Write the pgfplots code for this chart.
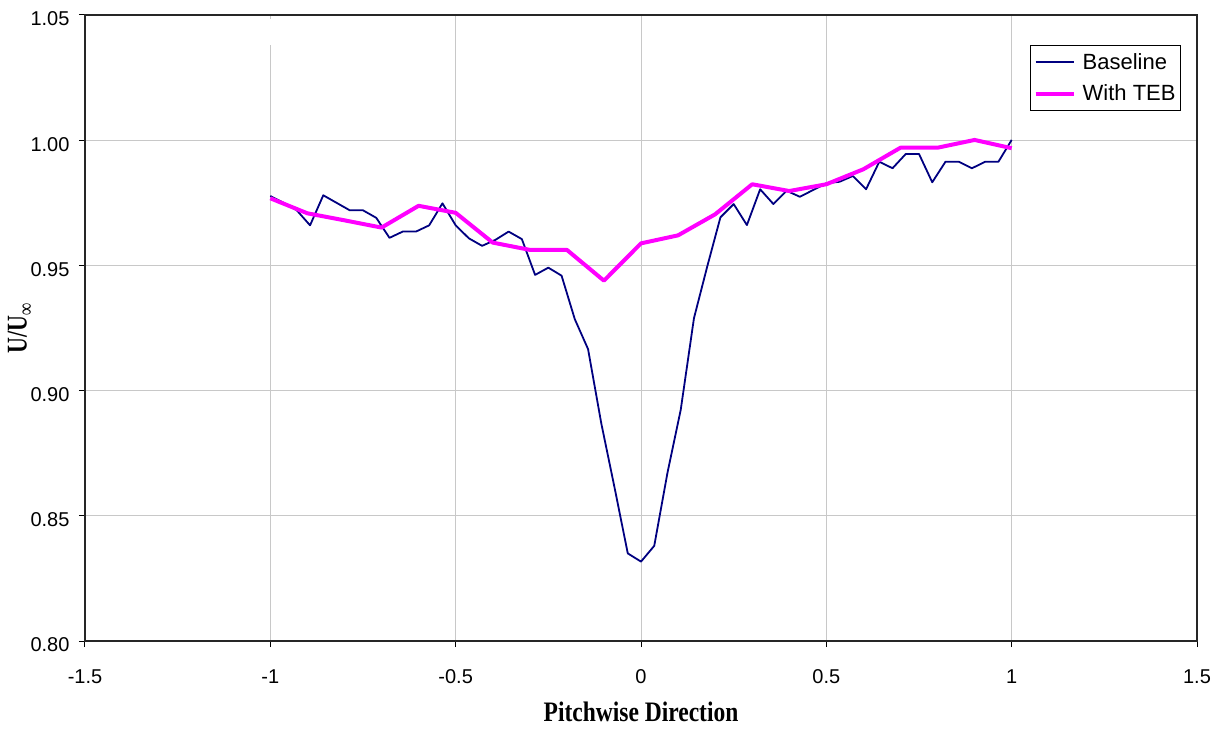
\documentclass[border=0pt]{standalone}
\usepackage{pgfplots}
\pgfplotsset{compat=1.18}
\usepackage{fontspec}
\setmainfont{Liberation Sans}
\newfontfamily\timesfont{Liberation Serif}

\definecolor{navyline}{HTML}{000080}
\definecolor{tebline}{HTML}{FF00FF}
\definecolor{gridgray}{HTML}{C8C8C8}

% Baseline velocity deficit, pitchwise spacing 1/28
\pgfplotstableread{
x y
-1.00000 0.9777
-0.96429 0.9750
-0.92857 0.9720
-0.89286 0.9660
-0.85714 0.9780
-0.82143 0.9750
-0.78571 0.9720
-0.75000 0.9720
-0.71429 0.9690
-0.67857 0.9610
-0.64286 0.9635
-0.60714 0.9635
-0.57143 0.9660
-0.53571 0.9748
-0.50000 0.9660
-0.46429 0.9608
-0.42857 0.9578
-0.39286 0.9602
-0.35714 0.9635
-0.32143 0.9605
-0.28571 0.9462
-0.25000 0.9491
-0.21429 0.9459
-0.17857 0.9285
-0.14286 0.9166
-0.10714 0.8869
-0.07143 0.8613
-0.03571 0.8350
 0.00000 0.8317
 0.03571 0.8380
 0.07143 0.8672
 0.10714 0.8923
 0.14286 0.9289
 0.17857 0.9495
 0.21429 0.9692
 0.25000 0.9745
 0.28571 0.9661
 0.32143 0.9804
 0.35714 0.9745
 0.39286 0.9798
 0.42857 0.9774
 0.46429 0.9801
 0.50000 0.9828
 0.53571 0.9834
 0.57143 0.9857
 0.60714 0.9804
 0.64286 0.9914
 0.67857 0.9888
 0.71429 0.9945
 0.75000 0.9945
 0.78571 0.9832
 0.82143 0.9914
 0.85714 0.9914
 0.89286 0.9888
 0.92857 0.9914
 0.96429 0.9914
 1.00000 1.0001
}\baselinedata

% Trailing-edge blowing case, spacing 0.1
\pgfplotstableread{
x y
-1.0 0.9768
-0.9 0.9708
-0.8 0.9680
-0.7 0.9651
-0.6 0.9738
-0.5 0.9710
-0.4 0.9591
-0.3 0.9562
-0.2 0.9562
-0.1 0.9439
 0.0 0.9588
 0.1 0.9620
 0.2 0.9704
 0.3 0.9824
 0.4 0.9797
 0.5 0.9824
 0.6 0.9884
 0.7 0.9970
 0.8 0.9970
 0.9 1.0001
 1.0 0.9968
}\tebdata

\begin{document}
\begin{tikzpicture}[x=1pt,y=1pt]
\begin{axis}[
  at={(0pt,0pt)}, anchor=south west,
  scale only axis,
  width=1112pt, height=626pt,
  xmin=-1.5, xmax=1.5,
  ymin=0.80, ymax=1.05,
  xtick={-1.5,-1,...,1.5},
  ytick={0.80,0.85,...,1.05},
  grid=major,
  major grid style={gridgray, line width=1pt},
  axis line style={black!85, line width=1.6pt},
  tick style={black, line width=1pt},
  tick align=outside,
  tick pos=left,
  major tick length=6pt,
  /pgf/number format/assume math mode=true,
  ticklabel style={font=\fontsize{20}{24}\selectfont},
  yticklabel style={/pgf/number format/fixed, /pgf/number format/fixed zerofill, /pgf/number format/precision=2, xshift=-6pt, yshift=-4pt},
  xticklabel style={/pgf/number format/fixed, /pgf/number format/precision=1, yshift=-19pt},
  xlabel={\scalebox{1}[1.2]{\timesfont\bfseries Pitchwise Direction}},
  xlabel style={font=\fontsize{23.5}{26}\selectfont, at={(axis description cs:0.5,-0.1134)}, anchor=center},
  ylabel={\scalebox{1}[1.3]{\timesfont\bfseries U/U\raisebox{-5pt}{\fontsize{17}{18}\selectfont ∞}}},
  ylabel style={font=\fontsize{22}{24}\selectfont, at={(axis description cs:-0.058,0.5)}, anchor=center},
  legend style={
    at={(axis description cs:0.9856,0.952)}, anchor=north east,
    draw=black, line width=0.8pt, fill=white,
    font=\fontsize{22}{24}\selectfont,
    inner xsep=3pt, inner ysep=6pt,
    row sep=10pt, column sep=5pt,
    legend cell align=left,
  },
  legend image code/.code={\draw[#1] (0pt,0pt) -- (38pt,0pt);},
]
\addplot[navyline, line width=1.8pt, line join=round] table {\baselinedata};
\addlegendentry{Baseline}
\addplot[tebline, line width=4pt, line join=round] table {\tebdata};
\addlegendentry{With TEB}
% the gridline at x=-1 stops short of the top frame
\draw[white, line width=2pt] (axis cs:-1,1.0485) -- (axis cs:-1,1.038);
\end{axis}
\pgfresetboundingbox
\useasboundingbox (-85pt,-87pt) rectangle (1140pt,641pt);
\end{tikzpicture}
\end{document}
